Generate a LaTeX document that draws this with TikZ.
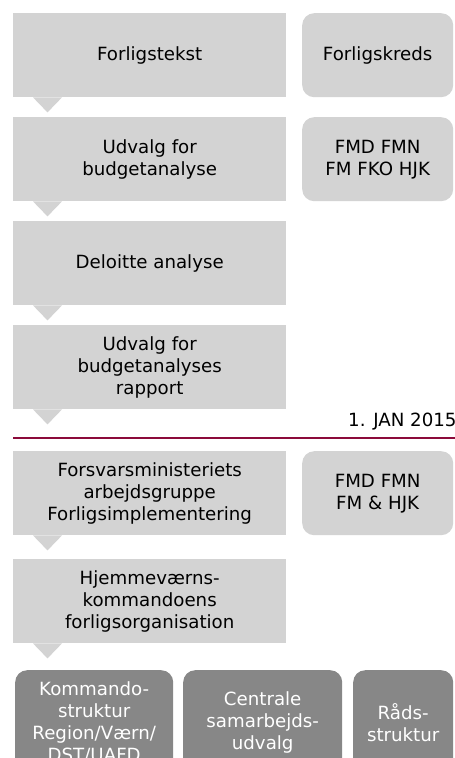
\documentclass[tikz,border=0pt]{standalone}
\usepackage{fontspec}
\setmainfont{DejaVu Sans}
\definecolor{stagegray}{HTML}{D3D3D3}
\definecolor{unitgray}{HTML}{878787}
\definecolor{datered}{HTML}{8B0A3A}
\begin{document}
\begin{tikzpicture}[x=1pt,y=-1pt,
  stage/.style={fill=stagegray,minimum width=273pt,minimum height=84pt,inner sep=0pt,
    anchor=north west,align=center,font=\fontsize{18.2}{22}\selectfont},
  party/.style={stage,rounded corners=12pt,minimum width=151pt},
  unit/.style={stage,fill=unitgray,text=white,rounded corners=12pt,minimum height=104pt},
  tip/.style={fill=stagegray}]
\useasboundingbox (0,0) rectangle (455,758);
\clip (0,0) rectangle (455,758);
% forlig
\node[stage] (tekst) at (13,13) {Forligstekst};
\node[stage] (udvalg) at (13,117) {Udvalg for\\budgetanalyse};
\node[stage] (deloitte) at (13,221) {Deloitte analyse};
\node[stage] (rapport) at (13,325) {Udvalg for\\budgetanalyses\\rapport};
\node[party] (kreds) at (302,13) {Forligskreds};
\node[party] (parter) at (302,117) {FMD FMN\\FM FKO HJK};
\foreach \b in {tekst,udvalg,deloitte,rapport}
  \fill[tip] (\b.south west) ++(20,0) -- ++(29,0) -- ++(-14.5,15) -- cycle;
% skillelinje
\node[anchor=base west,inner sep=0pt,font=\fontsize{18.2}{22}\selectfont] (dato) at (348,426) {1. JAN 2015};
\coordinate (linje) at (13,438);
\draw[datered,line width=2.5pt] (linje) -- (dato.south east |- linje) -- ++(40,0);
% implementering
\node[stage] (arbejd) at (13,451) {Forsvarsministeriets\\arbejdsgruppe\\Forligsimplementering};
\node[stage] (hjk) at (13,559) {Hjemmeværns-\\kommandoens\\forligsorganisation};
\node[party] (parter2) at (302,451) {FMD FMN\\FM \& HJK};
\foreach \b in {arbejd,hjk}
  \fill[tip] (\b.south west) ++(20,0) -- ++(29,0) -- ++(-14.5,15) -- cycle;
% strukturer
\node[unit,minimum width=158pt] (kommando) at (15,670) {Kommando-\\struktur\\Region/Værn/\\DST/UAFD};
\node[unit,minimum width=159pt] (central) at (183,670) {Centrale\\samarbejds-\\udvalg};
\node[unit,minimum width=100pt] (raad) at (353,670) {Råds-\\struktur};
\end{tikzpicture}
\end{document}
